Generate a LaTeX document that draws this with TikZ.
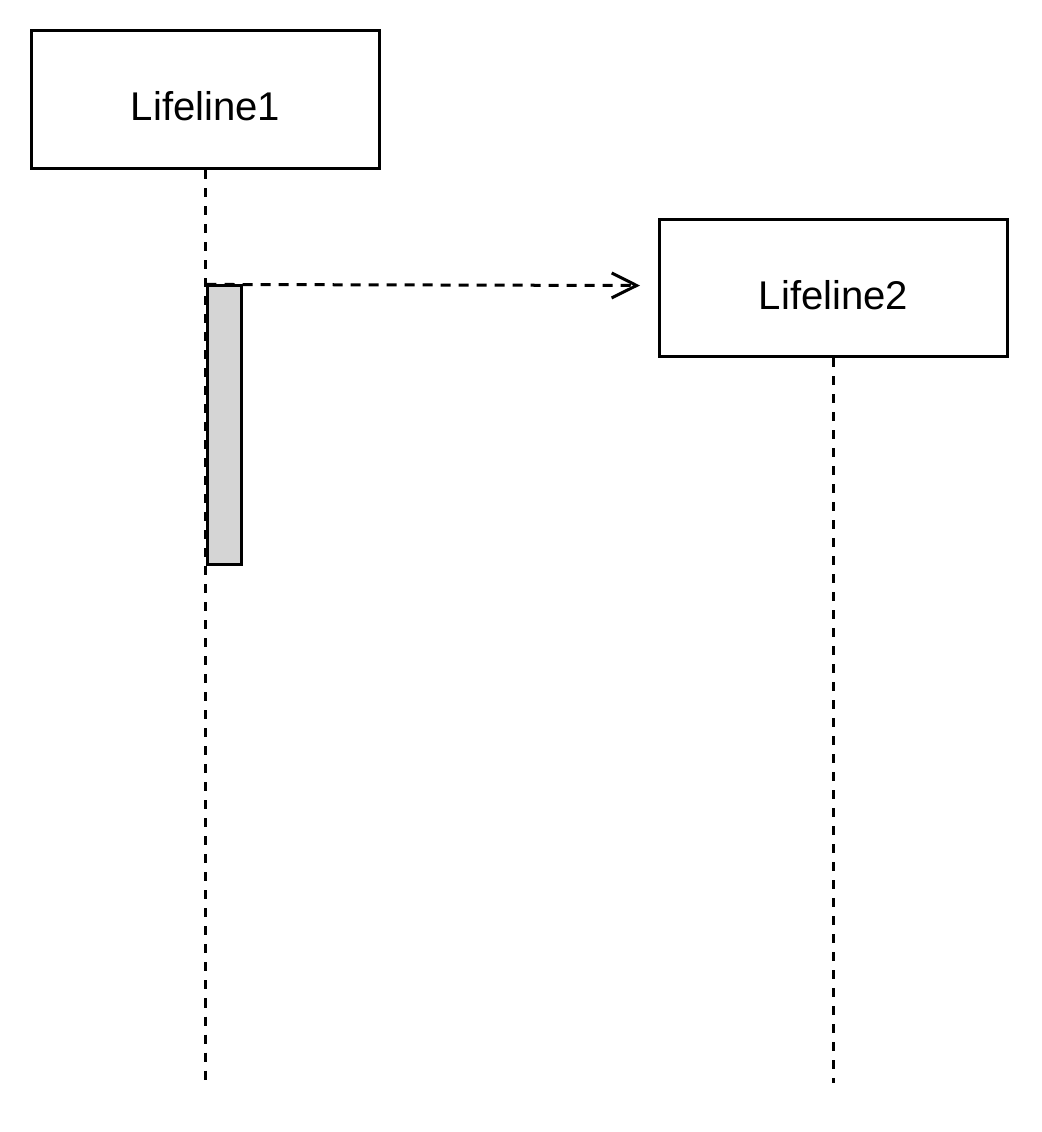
\documentclass[tikz,border=0pt]{standalone}
\usepackage{fontspec}
\setmainfont{Liberation Sans}
\usetikzlibrary{arrows.meta}
\definecolor{actgray}{HTML}{D5D5D5}
\tikzset{
  lifebox/.style={draw,line width=0.03cm,minimum width=3.48cm,minimum height=1.38cm,inner sep=0pt,text height=0.42cm,text depth=0cm,font=\fontsize{11.4}{13.7}\selectfont},
  lifeline/.style={line width=0.03cm,dash pattern=on 0.09cm off 0.09cm},
  actbar/.style={draw,fill=actgray,line width=0.03cm,minimum width=0.33cm,minimum height=2.78cm,inner sep=0pt},
  msg/.style={line width=0.03cm,dash pattern=on 0.1cm off 0.08cm,-{Straight Barb[length=0.25cm,width=0.25cm,line width=0.03cm]}}
}
\begin{document}
\begin{tikzpicture}[x=0.01cm,y=-0.01cm]
  \useasboundingbox (0,0) rectangle (1042,1132);
  \node[lifebox] (L1) at (205.5,99.5) {Lifeline1};
  \node[lifebox,minimum height=1.37cm] (L2) at (833.5,288) {Lifeline2};
  \coordinate (e1) at (205.5,1080);
  \coordinate (e2) at (833.5,1083);
  \draw[lifeline] (L1.south) -- (e1);
  \draw[lifeline] (L2.south) -- (e2);
  \node[actbar] (A1) at (224.5,425) {};
  \coordinate (m) at (640,285.5);
  \draw[msg] (A1.north west) -- (m);
\end{tikzpicture}
\end{document}
